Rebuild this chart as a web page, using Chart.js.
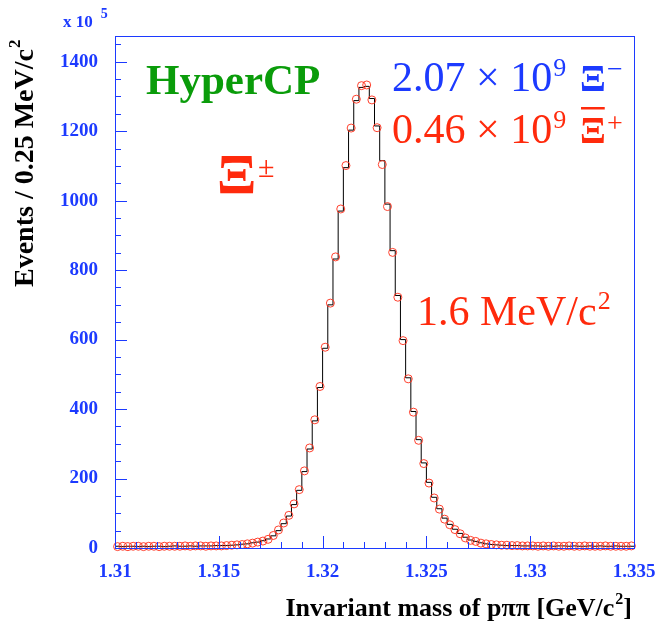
<!DOCTYPE html>
<html>
<head>
<meta charset="utf-8">
<script src="https://cdn.jsdelivr.net/npm/chart.js@4.4.0/dist/chart.umd.min.js"></script>
<style>
  html, body { margin: 0; padding: 0; background: #fff; }
  #wrap { width: 660px; height: 628px; }
</style>
</head>
<body>
<div id="wrap"><canvas id="c" width="660" height="628"></canvas></div>
<script>
// Invariant-mass histogram, 100 bins of 0.25 MeV/c^2 from 1.310 to 1.335 GeV/c^2
const massLow = 1.31;
const massHigh = 1.335;
const binWidth = 0.00025;

// Xi- candidates per bin (units of 10^5)
const xiMinus = [
  5, 4, 5, 5, 4, 5, 4, 5, 5, 4,
  5, 6, 5, 5, 6, 5, 6, 6, 6, 7,
  7, 7, 8, 9, 11, 12, 15, 17, 21, 26,
  35, 50, 70, 92, 125, 166, 220, 285, 366, 462,
  575, 700, 832, 970, 1095, 1203, 1288, 1326, 1329, 1294,
  1215, 1115, 990, 856, 727, 600, 490, 393, 312, 245,
  189, 146, 113, 86, 68, 54, 42, 31, 23, 19,
  15, 12, 10, 9, 8, 7, 7, 7, 6, 6,
  6, 6, 5, 6, 5, 6, 6, 5, 6, 5,
  5, 6, 5, 6, 5, 5, 6, 5, 5, 5
];

// anti-Xi+ candidates per bin, scaled to the Xi- yield (units of 10^5)
const xiPlusScaled = [
  4, 5, 4, 5, 5, 4, 5, 5, 4, 5,
  5, 5, 5, 6, 5, 6, 6, 5, 6, 6,
  6, 7, 8, 9, 10, 12, 14, 17, 20, 25,
  36, 52, 72, 94, 127, 168, 222, 288, 369, 465,
  578, 705, 838, 976, 1101, 1209, 1292, 1331, 1333, 1290,
  1210, 1104, 983, 851, 722, 597, 487, 391, 310, 243,
  187, 144, 112, 83, 67, 53, 41, 29, 22, 19,
  14, 12, 10, 9, 8, 8, 7, 7, 6, 6,
  6, 5, 6, 5, 6, 5, 5, 6, 5, 5,
  6, 5, 5, 5, 6, 5, 5, 5, 5, 6
];

const xTickValues = [1.31, 1.315, 1.32, 1.325, 1.33, 1.335];
const xTickLabels = ['1.31', '1.315', '1.32', '1.325', '1.33', '1.335'];
const yTickValues = [0, 200, 400, 600, 800, 1000, 1200, 1400];
const yTickLabels = ['0', '200', '400', '600', '800', '1000', '1200', '1400'];
const xMinorStep = 0.001;
const yMinorStep = 50;
const yMax = 1474;

const BLUE = 'rgb(28,58,255)';
const RED = 'rgb(255,42,12)';
const GREEN = 'rgb(10,156,10)';
const SERIF = '"Liberation Serif", "Times New Roman", serif';

// step outline: one point per lower bin edge, plus the upper edge of the last bin
const stepPoints = xiMinus.map((v, k) => ({ x: massLow + k * binWidth, y: v }));
stepPoints.push({ x: massHigh, y: xiMinus[xiMinus.length - 1] });

// markers at bin centres
const markerPoints = xiPlusScaled.map((v, k) => ({ x: massLow + (k + 0.5) * binWidth, y: v }));

function txt(ctx, s, x, y, font, color, align) {
  ctx.font = font;
  ctx.fillStyle = color;
  ctx.textAlign = align || 'left';
  ctx.textBaseline = 'alphabetic';
  ctx.fillText(s, x, y);
  return ctx.measureText(s).width;
}

const frameAndTicks = {
  id: 'frameAndTicks',
  afterDatasetsDraw(chart) {
    const { ctx, chartArea: a, scales } = chart;
    const xs = scales.x, ys = scales.y;
    ctx.save();
    ctx.strokeStyle = BLUE;
    ctx.lineWidth = 1;
    ctx.strokeRect(a.left + 0.5, a.top + 0.5, a.right - a.left, a.bottom - a.top);
    ctx.beginPath();
    const nx = Math.round((massHigh - massLow) / xMinorStep);
    for (let i = 0; i <= nx; i++) {
      const px = Math.round(xs.getPixelForValue(massLow + i * xMinorStep)) + 0.5;
      const len = (i % 5 === 0) ? 12 : 6;
      ctx.moveTo(px, a.bottom);
      ctx.lineTo(px, a.bottom - len);
    }
    for (let v = 0; v <= yMax; v += yMinorStep) {
      const py = Math.round(ys.getPixelForValue(v)) + 0.5;
      const len = (v % 200 === 0) ? 12 : 6;
      ctx.moveTo(a.left, py);
      ctx.lineTo(a.left + len, py);
    }
    ctx.stroke();
    ctx.restore();
  },
  afterDraw(chart) {
    const ctx = chart.ctx;
    ctx.save();
    // axis multiplier
    const w0 = txt(ctx, 'x 10', 63, 27, 'bold 17px ' + SERIF, BLUE);
    txt(ctx, '5', 63 + w0 + 8, 18, 'bold 14px ' + SERIF, BLUE);

    // experiment name
    txt(ctx, 'HyperCP', 146, 94, 'bold 43px ' + SERIF, GREEN);

    // particle label
    txt(ctx, 'Ξ', 217, 194, 'bold 58px ' + SERIF, RED);
    txt(ctx, '±', 258, 177, '30px ' + SERIF, RED);

    // yields
    let w = txt(ctx, '2.07 × 10', 392, 91, '42px ' + SERIF, BLUE);
    txt(ctx, '9', 392 + w + 1, 76, '26px ' + SERIF, BLUE);
    txt(ctx, 'Ξ', 580, 91, 'bold 38px ' + SERIF, BLUE);
    txt(ctx, '−', 607, 78, '28px ' + SERIF, BLUE);

    w = txt(ctx, '0.46 × 10', 392, 143, '42px ' + SERIF, RED);
    txt(ctx, '9', 392 + w + 1, 128, '26px ' + SERIF, RED);
    const xw = txt(ctx, 'Ξ', 580, 143, 'bold 38px ' + SERIF, RED);
    ctx.fillStyle = RED;
    ctx.fillRect(581, 107, xw - 2, 2.5);
    txt(ctx, '+', 607, 132, '28px ' + SERIF, RED);

    // resolution
    w = txt(ctx, '1.6 MeV/c', 417, 325, '42px ' + SERIF, RED);
    txt(ctx, '2', 417 + w + 1, 309, '26px ' + SERIF, RED);

    // x axis title
    const xt = 'Invariant mass of pππ [GeV/c';
    ctx.font = 'bold 26px ' + SERIF;
    const xtw = ctx.measureText(xt).width;
    ctx.font = 'bold 16px ' + SERIF;
    const supw = ctx.measureText('2').width;
    ctx.font = 'bold 26px ' + SERIF;
    const brw = ctx.measureText(']').width;
    const xEnd = 632;
    const xStart = xEnd - brw - supw - 1 - xtw;
    txt(ctx, xt, xStart, 616, 'bold 26px ' + SERIF, '#000');
    txt(ctx, '2', xStart + xtw + 1, 604, 'bold 16px ' + SERIF, '#000');
    txt(ctx, ']', xStart + xtw + supw + 1, 616, 'bold 26px ' + SERIF, '#000');

    // y axis title
    ctx.translate(33, 287);
    ctx.rotate(-Math.PI / 2);
    const yw = txt(ctx, 'Events / 0.25 MeV/c', 0, 0, 'bold 28px ' + SERIF, '#000');
    txt(ctx, '2', yw + 1, -13, 'bold 17px ' + SERIF, '#000');
    ctx.restore();
  }
};

new Chart(document.getElementById('c'), {
  type: 'line',
  data: {
    datasets: [
      {
        label: 'anti-Xi+ (scaled)',
        data: markerPoints,
        showLine: false,
        pointStyle: 'circle',
        pointRadius: 4,
        pointBorderWidth: 1,
        pointBorderColor: 'rgba(255,55,35,0.95)',
        pointBackgroundColor: 'rgba(0,0,0,0)',
        clip: false,
        order: 0
      },
      {
        label: 'Xi-',
        data: stepPoints,
        stepped: 'before',
        borderColor: '#000',
        borderWidth: 1,
        pointRadius: 0,
        fill: false,
        order: 1
      }
    ]
  },
  options: {
    responsive: false,
    animation: false,
    devicePixelRatio: 1,
    layout: { padding: { left: 0, right: 26, top: 36, bottom: 0 } },
    plugins: { legend: { display: false }, tooltip: { enabled: false } },
    scales: {
      x: {
        type: 'linear',
        min: massLow,
        max: massHigh,
        grid: { display: false, drawTicks: false },
        border: { display: false },
        afterBuildTicks: (s) => { s.ticks = xTickValues.map(v => ({ value: v })); },
        afterFit: (s) => { s.height = 80; s.paddingLeft = 0; s.paddingRight = 0; s.paddingTop = 0; s.paddingBottom = 0; },
        ticks: {
          padding: 13,
          maxRotation: 0,
          autoSkip: false,
          color: BLUE,
          font: { family: SERIF, size: 19, weight: 'bold' },
          callback: (v, i) => xTickLabels[i]
        }
      },
      y: {
        type: 'linear',
        min: 0,
        max: yMax,
        grid: { display: false, drawTicks: false },
        border: { display: false },
        afterBuildTicks: (s) => { s.ticks = yTickValues.map(v => ({ value: v })); },
        afterFit: (s) => { s.width = 115; s.paddingLeft = 0; s.paddingRight = 0; s.paddingTop = 0; s.paddingBottom = 0; },
        ticks: {
          padding: 17,
          autoSkip: false,
          color: BLUE,
          font: { family: SERIF, size: 19, weight: 'bold' },
          callback: (v, i) => yTickLabels[i]
        }
      }
    }
  },
  plugins: [frameAndTicks]
});
</script>
</body>
</html>
